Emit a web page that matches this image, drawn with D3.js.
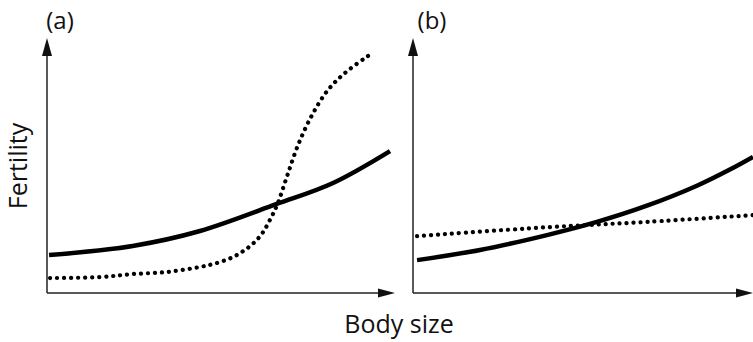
<!DOCTYPE html>
<html>
<head>
<meta charset="utf-8">
<script src="https://cdn.jsdelivr.net/npm/d3@7"></script>
<style>
  html, body { margin: 0; padding: 0; background: #fff; }
  svg { display: block; }
  text { font-family: "Open Sans", "Noto Sans", sans-serif; fill: #111; }
</style>
</head>
<body>
<svg id="chart" width="753" height="342"></svg>
<script>
// Panel labels and axis titles
const panelLabels = ["(a)", "(b)"];
const xTitle = "Body size";
const yTitle = "Fertility";

// Panel (a) curves (x: body size 0-10, y: fertility 0-10)
const aSolidX = [0.06, 2.5, 4.46, 6.7, 8.34, 10];
const aSolidY = [1.5, 1.86, 2.45, 3.52, 4.35, 5.61];
const aDotX = [0.09, 1.55, 2.51, 3.5, 4.46, 4.96, 5.42, 5.77, 6.06, 6.3, 6.5, 6.71, 6.99, 7.32, 7.73, 8.19, 8.69, 9.36];
const aDotY = [0.59, 0.63, 0.75, 0.83, 1.03, 1.19, 1.42, 1.70, 2.02, 2.41, 2.89, 3.48, 4.58, 5.85, 7.04, 8.02, 8.70, 9.37];

// Panel (b) curves
const bSolidX = [0.12, 1.97, 3.94, 5.41, 6.88, 8.35, 9.32, 10];
const bSolidY = [1.3, 1.7, 2.29, 2.81, 3.45, 4.24, 4.88, 5.38];
const bDotX = [0.12, 3.94, 6.88, 10];
const bDotY = [2.25, 2.6, 2.81, 3.08];

const svg = d3.select("#chart");

const panels = [
  { label: panelLabels[0], x0: 47, x1: 390, labelX: 60,
    solid: aSolidX.map((x, i) => [x, aSolidY[i]]),
    dot: aDotX.map((x, i) => [x, aDotY[i]]) },
  { label: panelLabels[1], x0: 413, x1: 753, labelX: 432,
    solid: bSolidX.map((x, i) => [x, bSolidY[i]]),
    dot: bDotX.map((x, i) => [x, bDotY[i]]) }
];

const yBottom = 293, yTop = 40;

panels.forEach(p => {
  const x = d3.scaleLinear().domain([0, 10]).range([p.x0, p.x1]);
  const y = d3.scaleLinear().domain([0, 10]).range([yBottom, yTop]);
  const g = svg.append("g");

  // axes (no ticks)
  const axisColor = "#222";
  g.append("line").attr("x1", x(0)).attr("x2", x(0))
    .attr("y1", y(0)).attr("y2", y(10) + 14)
    .attr("stroke", axisColor).attr("stroke-width", 1.5);
  g.append("path")
    .attr("d", `M${x(0)-5},${y(10)+16} L${x(0)},${y(10)-2} L${x(0)+5},${y(10)+16} Z`)
    .attr("fill", "#111");
  const xEnd = Math.min(x(10) + 5, 753);
  g.append("line").attr("x1", x(0)).attr("x2", xEnd - 12)
    .attr("y1", y(0)).attr("y2", y(0))
    .attr("stroke", axisColor).attr("stroke-width", 1.5);
  g.append("path")
    .attr("d", `M${xEnd-17},${y(0)-4.5} L${xEnd},${y(0)} L${xEnd-17},${y(0)+4.5} Z`)
    .attr("fill", "#111");

  const line = d3.line().x(d => x(d[0])).y(d => y(d[1])).curve(d3.curveCatmullRom.alpha(0.5));

  g.append("path").datum(p.solid).attr("d", line)
    .attr("fill", "none").attr("stroke", "#000").attr("stroke-width", 4.5)
    .attr("stroke-linecap", "butt");
  g.append("path").datum(p.dot).attr("d", line)
    .attr("fill", "none").attr("stroke", "#000").attr("stroke-width", 4.2)
    .attr("stroke-linecap", "round").attr("stroke-dasharray", "0.1 6.9");

  g.append("text").attr("x", p.labelX).attr("y", 29)
    .attr("text-anchor", "middle").attr("font-size", 24).text(p.label);
});

svg.append("text").attr("x", 399).attr("y", 333)
  .attr("text-anchor", "middle").attr("font-size", 25).text(xTitle);
svg.append("text").attr("transform", "translate(27,166) rotate(-90)")
  .attr("text-anchor", "middle").attr("font-size", 25).text(yTitle);
</script>
</body>
</html>
